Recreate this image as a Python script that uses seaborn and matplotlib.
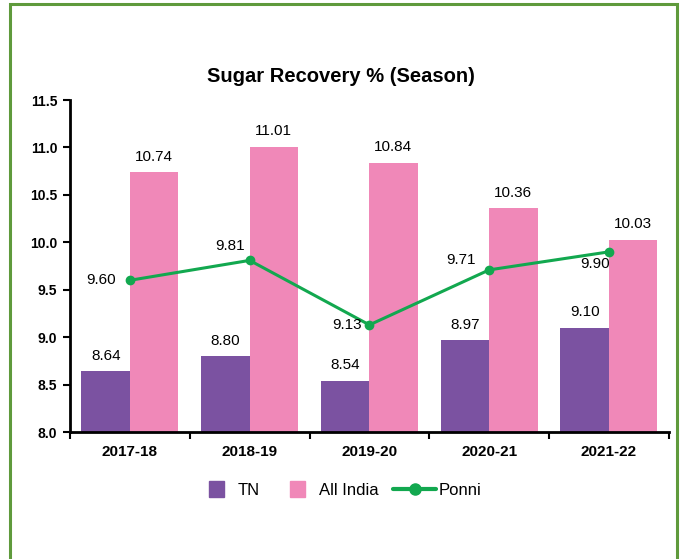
import numpy as np
import pandas as pd
import matplotlib
matplotlib.use('Agg')
import matplotlib.pyplot as plt
import matplotlib.patches as mpatches
from matplotlib.lines import Line2D
from matplotlib.legend_handler import HandlerPatch
import seaborn as sns

seasons = ['2017-18', '2018-19', '2019-20', '2020-21', '2021-22']
tn = [8.64, 8.80, 8.54, 8.97, 9.10]
all_india = [10.74, 11.01, 10.84, 10.36, 10.03]
ponni = [9.60, 9.81, 9.13, 9.71, 9.90]

sns.set_style('white')
plt.rcParams['font.family'] = ['Liberation Sans', 'DejaVu Sans']
plt.rcParams['text.color'] = 'black'
plt.rcParams['xtick.color'] = 'black'
plt.rcParams['ytick.color'] = 'black'

df = pd.DataFrame({'Season': seasons * 2,
                   'Value': tn + all_india,
                   'Series': ['TN'] * 5 + ['All India'] * 5})

fig = plt.figure(figsize=(6.86, 5.59), dpi=100)
ax = fig.add_axes([0.102, 0.227, 0.873, 0.594])

colors = {'TN': '#7B52A1', 'All India': '#F088B8'}
sns.barplot(data=df, x='Season', y='Value', hue='Series', palette=colors,
            width=0.81, saturation=1, linewidth=0, ax=ax, legend=False)
# bars start from 8.0 baseline
for p in ax.patches:
    h = p.get_height()
    p.set_y(8.0)
    p.set_height(h - 8.0)

x = np.arange(len(seasons))
ax.plot(x, ponni, color='#12A84F', lw=2.2, marker='o', ms=6)

# bar labels
for i in range(len(seasons)):
    ax.text(i - 0.2, tn[i] + 0.09, f'{tn[i]:.2f}', ha='center', va='bottom', fontsize=11)
    ax.text(i + 0.2, all_india[i] + 0.09, f'{all_india[i]:.2f}', ha='center', va='bottom', fontsize=11)

# line labels
offsets = [(-0.12, 0.0, 'right', 'center'),
           (-0.04, 0.08, 'right', 'bottom'),
           (-0.06, 0.0, 'right', 'center'),
           (-0.11, 0.03, 'right', 'bottom'),
           (0.01, -0.05, 'right', 'top')]
for i, (dx, dy, ha, va) in enumerate(offsets):
    ax.text(i + dx, ponni[i] + dy, f'{ponni[i]:.2f}', ha=ha, va=va, fontsize=11)

ax.set_ylim(8.0, 11.5)
ax.set_yticks(np.arange(8.0, 11.51, 0.5))
ax.set_yticklabels([f'{v:.1f}' for v in np.arange(8.0, 11.51, 0.5)], fontsize=10, fontweight='bold')
ax.set_xlim(-0.5, 4.5)
ax.set_xticks(x)
ax.set_xticklabels(seasons, fontsize=11, fontweight='bold')
ax.set_xticks(np.arange(-0.5, 4.6, 1), minor=True)
ax.tick_params(axis='x', which='major', length=0, pad=9)
ax.tick_params(axis='x', which='minor', length=5, width=1.5, direction='out', bottom=True)
ax.tick_params(axis='y', length=5, width=1.5, direction='out', left=True, pad=4)
ax.set_xlabel('')
ax.set_ylabel('')
for s in ['top', 'right']:
    ax.spines[s].set_visible(False)
for s in ['left', 'bottom']:
    ax.spines[s].set_linewidth(2)
    ax.spines[s].set_color('black')

ax.set_title('Sugar Recovery % (Season)', fontsize=14.5, fontweight='bold', pad=13, x=0.452)


def square_patch(legend, orig_handle, xdescent, ydescent, width, height, fontsize):
    w, h = 10.8, 11.5
    cy = height / 2 - ydescent
    return mpatches.Rectangle((width - w - 8.6 - xdescent, cy - h / 2), w, h)


handles = [mpatches.Patch(color=colors['TN'], label='TN'),
           mpatches.Patch(color=colors['All India'], label='All India'),
           Line2D([0], [0], color='#12A84F', lw=3, marker='o', ms=8, label='Ponni')]
fig.legend(handles=handles, loc='center', bbox_to_anchor=(0.491, 0.123), ncol=3,
           frameon=False, fontsize=12, handlelength=2.6, handletextpad=0.12, columnspacing=0.85,
           handler_map={mpatches.Patch: HandlerPatch(patch_func=square_patch)})

fig.patches.append(mpatches.Rectangle((0.015, -0.01), 0.972, 1.003, transform=fig.transFigure,
                                      fill=False, edgecolor='#5F9A3C', lw=2.2))

fig.savefig('out.png', dpi=100)
